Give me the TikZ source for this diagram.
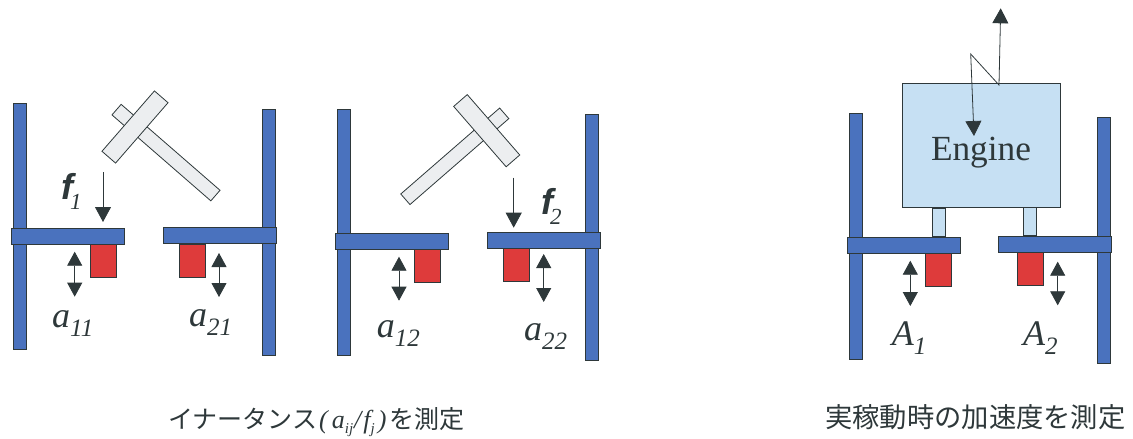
\documentclass[tikz,border=0pt]{standalone}
\usepackage{fontspec}
\setmainfont{Liberation Serif}
\setsansfont{Liberation Sans}
\newfontfamily\cjk{Noto Sans CJK JP}
\usepackage{tikz}
\usetikzlibrary{arrows.meta}
\definecolor{plateblue}{HTML}{4A72BE}
\definecolor{massred}{HTML}{DE3B3B}
\definecolor{enginefill}{HTML}{C6E0F3}
\definecolor{hammerfill}{HTML}{ECEEF0}
\definecolor{inkdark}{HTML}{2E383A}
\newcommand{\labelfont}{\fontsize{36}{36}\selectfont\itshape}
\newcommand{\subfont}{\fontsize{25}{25}\selectfont}
\newcommand{\forcefont}{\fontsize{36}{36}\selectfont\sffamily\bfseries\itshape}
\newcommand{\forcesub}{\fontsize{23}{23}\selectfont\rmfamily\mdseries\itshape}
\newcommand{\ratiofont}{\fontsize{26}{26}\selectfont\rmfamily\itshape}
\newcommand{\ratiosub}{\fontsize{15}{15}\selectfont}

\begin{document}
\begin{tikzpicture}[
    x=1pt, y=1pt,
    post/.style={rectangle, draw=inkdark, fill=plateblue, line width=0.8pt, inner sep=0pt, minimum width=13pt, minimum height=246pt},
    plate/.style={rectangle, draw=inkdark, fill=plateblue, line width=0.8pt, inner sep=0pt, minimum width=113pt, minimum height=16pt},
    mass/.style={rectangle, draw=inkdark, fill=massred, line width=0.8pt, inner sep=0pt, minimum width=26pt, minimum height=33pt},
    head/.style={rectangle, draw=inkdark, fill=hammerfill, line width=0.8pt, inner sep=0pt, minimum width=80pt, minimum height=18pt},
    handle/.style={rectangle, draw=inkdark, fill=hammerfill, line width=0.8pt, inner sep=0pt, minimum width=131pt, minimum height=14pt},
    mount/.style={rectangle, draw=inkdark, fill=enginefill, line width=0.8pt, inner sep=0pt, minimum width=13pt, minimum height=28pt},
    engine/.style={rectangle, draw=inkdark, fill=enginefill, line width=0.8pt, inner sep=0pt, minimum width=158pt, minimum height=124pt},
    symbol/.style={text=inkdark, inner sep=0pt, anchor=base west},
    caption/.style={text=inkdark, inner sep=0pt, anchor=base west, font=\cjk\fontsize{25}{25}\selectfont},
    force/.style={-{Triangle[length=15pt,width=16pt]}, draw=inkdark, line width=0.8pt},
    accel/.style={{Triangle[length=14pt,width=15pt]}-{Triangle[length=14pt,width=15pt]}, draw=inkdark, line width=0.8pt},
    vib/.style={{Triangle[length=15pt,width=16pt]}-{Triangle[length=15pt,width=16pt]}, draw=inkdark, line width=0.8pt}
]
    \useasboundingbox (0,0) rectangle (1133,-439);

    % first hammer test
    \node[post] (postA) at (20,-226) {};
    \node[post] (postB) at (269,-232) {};
    \node[plate] (plateA) at (68,-236) {};
    \node[plate] (plateB) at (219.5,-235) {};
    \node[mass] (massA) at (103,-260.5) {};
    \node[mass] (massB) at (192,-261) {};
    \node[handle, rotate=-41] (handleA) at (166,-152.6) {};
    \node[head, rotate=49] (headA) at (135,-127) {};

    \coordinate (forceAtop) at (103,-172);
    \coordinate (forceAtip) at (103,-222);
    \draw[force] (forceAtop) -- (forceAtip);
    \coordinate (accAtop) at (74.7,-251.7);
    \coordinate (accAbot) at (74.7,-296.7);
    \draw[accel] (accAtop) -- (accAbot);
    \coordinate (accBtop) at (219,-253);
    \coordinate (accBbot) at (219,-297);
    \draw[accel] (accBtop) -- (accBbot);

    \node[symbol] (labelF1) at (61,-199) {\forcefont f\kern-3pt\raisebox{-10pt}{\forcesub 1}};
    \node[symbol] (labelA11) at (52,-327) {\labelfont a\raisebox{-9pt}{\subfont 11}};
    \node[symbol] (labelA21) at (189,-326) {\labelfont a\raisebox{-9pt}{\subfont 21}};

    % second hammer test
    \node[post] (postC) at (344,-232) {};
    \node[post] (postD) at (592.3,-237.5) {};
    \node[plate] (plateC) at (392.3,-241) {};
    \node[plate] (plateD) at (543.7,-240.5) {};
    \node[mass] (massC) at (427.5,-266) {};
    \node[mass] (massD) at (516.3,-265) {};
    \node[handle, rotate=41] (handleC) at (454.8,-156.3) {};
    \node[head, rotate=-49] (headC) at (486.7,-130.7) {};

    \coordinate (forceCtop) at (513.7,-177.7);
    \coordinate (forceCtip) at (513.7,-227.7);
    \draw[force] (forceCtop) -- (forceCtip);
    \coordinate (accCtop) at (399,-256.7);
    \coordinate (accCbot) at (399,-300.7);
    \draw[accel] (accCtop) -- (accCbot);
    \coordinate (accDtop) at (543.7,-254);
    \coordinate (accDbot) at (543.7,-302);
    \draw[accel] (accDtop) -- (accDbot);

    \node[symbol] (labelF2) at (541,-214) {\forcefont f\kern-3pt\raisebox{-10pt}{\forcesub 2}};
    \node[symbol] (labelA12) at (376.7,-337) {\labelfont a\raisebox{-9pt}{\subfont 12}};
    \node[symbol] (labelA22) at (524,-340) {\labelfont a\raisebox{-9pt}{\subfont 22}};

    % running engine
    \node[post] (postE) at (855.7,-236) {};
    \node[post] (postF) at (1103.8,-240.7) {};
    \node[mount] (mountE) at (938.8,-222.5) {};
    \node[mount] (mountF) at (1030.2,-221.7) {};
    \node[plate] (plateE) at (903.8,-245) {};
    \node[plate] (plateF) at (1055,-244) {};
    \node[mass] (massE) at (938.7,-269.7) {};
    \node[mass] (massF) at (1030.3,-269) {};
    \node[engine] (engine) at (981.8,-145.7) {};
    \node[text=inkdark, inner sep=0pt, anchor=base, font=\fontsize{35.3}{35.3}\selectfont] (engineText) at (981,-160.7) {Engine};

    \coordinate (vibTop) at (1000.7,-8.3);
    \coordinate (vibBase) at (999,-85);
    \coordinate (vibKink) at (970.7,-54);
    \coordinate (vibTip) at (974,-136);
    \draw[vib] (vibTop) -- (vibBase) -- (vibKink) -- (vibTip);
    \coordinate (accEtop) at (910.3,-260.7);
    \coordinate (accEbot) at (910.3,-306);
    \draw[accel] (accEtop) -- (accEbot);
    \coordinate (accFtop) at (1057.7,-261.7);
    \coordinate (accFbot) at (1057.7,-305.3);
    \draw[accel] (accFtop) -- (accFbot);

    \node[symbol] (labelAE) at (891.7,-345) {\labelfont A\raisebox{-9pt}{\subfont 1}};
    \node[symbol] (labelAF) at (1023,-345) {\labelfont A\raisebox{-9pt}{\subfont 2}};

    % captions
    \node[caption] (captionL) at (168,-428) {イナータンス{\ratiofont\kern2pt(\kern4pt a\raisebox{-5pt}{\ratiosub ij}\kern1pt/\kern2pt f\raisebox{-5pt}{\ratiosub j}\kern3pt)\kern3pt}を測定};
    \node[caption, font=\cjk\fontsize{27.3}{27.3}\selectfont] (captionR) at (825,-427) {実稼動時の加速度を測定};
\end{tikzpicture}
\end{document}
